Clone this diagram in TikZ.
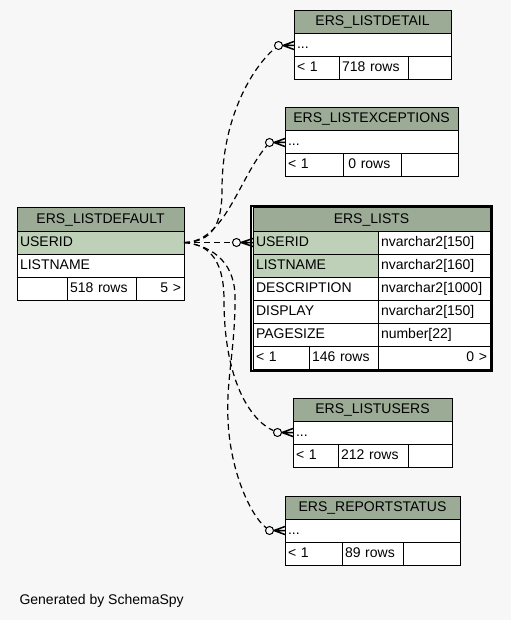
\documentclass[tikz,border=0pt]{standalone}
\usepackage{fontspec}
\setmainfont{Liberation Sans}
\usepackage{xcolor}
\usetikzlibrary{positioning, fit}

\definecolor{hdrgray}{HTML}{9BAB96}
\definecolor{keygreen}{HTML}{BED1B8}
\definecolor{pagebg}{HTML}{F7F7F7}

\begin{document}
\begin{tikzpicture}[
      x=1pt, y=-1pt,
      cell/.style={
        draw=black,
        line width=1pt,
        fill=white,
        anchor=north west,
        align=left,
        inner xsep=3pt,
        inner ysep=0pt,
        outer sep=0pt,
        minimum height=23pt,
        text height=10pt,
        text depth=3pt,
        font=\fontsize{14}{16}\selectfont
      },
      hdr/.style={cell, fill=hdrgray, align=center},
      key/.style={cell, fill=keygreen},
      num/.style={cell, align=right},
      ocirc/.style={circle, draw, line width=1pt, fill=pagebg, minimum size=8pt, inner sep=0pt},
      crow/.style={line width=1.5pt},
      fk/.style={line width=1.2pt, dash pattern=on 6pt off 4pt}
    ]
    % Page
    \fill[pagebg] (0,0) rectangle (511,620);
    \useasboundingbox (0,0) rectangle (511,620);

    % ERS_LISTDEFAULT (parent)
    \node [hdr, text width=161pt] (defhdr) at (17,208) {ERS\_LISTDEFAULT};
    \node [key, text width=161pt] (defuser) at (defhdr.south west) {USERID};
    \node [cell, text width=161pt] (defname) at (defuser.south west) {LISTNAME};
    \node [cell, text width=44pt] (deff1) at (defname.south west) {};
    \node [cell, text width=63pt] (deff2) at (deff1.north east) {518 rows};
    \node [num, text width=42pt] (deff3) at (deff2.north east) {5 >};

    % ERS_LISTDETAIL
    \node [hdr, text width=151pt] (dethdr) at (294,11) {ERS\_LISTDETAIL};
    \node [cell, text width=151pt] (detrow) at (dethdr.south west) {...};
    \node [cell, text width=39pt] (detf1) at (detrow.south west) {< 1};
    \node [cell, text width=63pt] (detf2) at (detf1.north east) {718 rows};
    \node [cell, text width=37pt] (detf3) at (detf2.north east) {};

    % ERS_LISTEXCEPTIONS
    \node [hdr, text width=167pt] (exchdr) at (285,108) {ERS\_LISTEXCEPTIONS};
    \node [cell, text width=167pt] (excrow) at (exchdr.south west) {...};
    \node [cell, text width=52pt] (excf1) at (excrow.south west) {< 1};
    \node [cell, text width=52pt] (excf2) at (excf1.north east) {\,0 rows};
    \node [cell, text width=51pt] (excf3) at (excf2.north east) {};

    % ERS_LISTS (selected table)
    \node [hdr, text width=231pt] (lstshdr) at (253,208) {ERS\_LISTS};
    \node [key, text width=119pt] (lstsuser) at (lstshdr.south west) {USERID};
    \node [cell, text width=106pt] (lstsusert) at (lstsuser.north east) {nvarchar2[150]};
    \node [key, text width=119pt] (lstsname) at (lstsuser.south west) {LISTNAME};
    \node [cell, text width=106pt] (lstsnamet) at (lstsname.north east) {nvarchar2[160]};
    \node [cell, text width=119pt] (lstsdesc) at (lstsname.south west) {DESCRIPTION};
    \node [cell, text width=106pt] (lstsdesct) at (lstsdesc.north east) {nvarchar2[1000]};
    \node [cell, text width=119pt] (lstsdisp) at (lstsdesc.south west) {DISPLAY};
    \node [cell, text width=106pt] (lstsdispt) at (lstsdisp.north east) {nvarchar2[150]};
    \node [cell, text width=119pt] (lstspage) at (lstsdisp.south west) {PAGESIZE};
    \node [cell, text width=106pt] (lstspaget) at (lstspage.north east) {number[22]};
    \node [cell, text width=50pt] (lstsf1) at (lstspage.south west) {< 1};
    \node [cell, text width=63pt] (lstsf2) at (lstsf1.north east) {146 rows};
    \node [num, text width=106pt] (lstsf3) at (lstsf2.north east) {0 >};
    \node [draw, line width=2pt, inner sep=2pt, fit=(lstshdr)(lstsf3)] (lstsframe) {};

    % ERS_LISTUSERS
    \node [hdr, text width=153pt] (lushdr) at (293,398) {ERS\_LISTUSERS};
    \node [cell, text width=153pt] (lusrow) at (lushdr.south west) {...};
    \node [cell, text width=39pt] (lusf1) at (lusrow.south west) {< 1};
    \node [cell, text width=64pt] (lusf2) at (lusf1.north east) {212 rows};
    \node [cell, text width=38pt] (lusf3) at (lusf2.north east) {};

    % ERS_REPORTSTATUS
    \node [hdr, text width=169pt] (rephdr) at (285,496) {ERS\_REPORTSTATUS};
    \node [cell, text width=169pt] (reprow) at (rephdr.south west) {...};
    \node [cell, text width=51pt] (repf1) at (reprow.south west) {< 1};
    \node [cell, text width=55pt] (repf2) at (repf1.north east) {89 rows};
    \node [cell, text width=51pt] (repf3) at (repf2.north east) {};

    % Zero-or-many ends
    \node [ocirc, left=11pt of detrow.west] (detc) {};
    \node [ocirc, left=11pt of excrow.west] (excc) {};
    \node [ocirc, left=12pt of lstsuser.west] (lstsc) {};
    \node [ocirc, left=11pt of lusrow.west] (lusc) {};
    \node [ocirc, left=11pt of reprow.west] (repc) {};

    \draw [crow] (detc.east) -- ([yshift=4pt]detrow.west) (detc.east) -- (detrow.west) (detc.east) -- ([yshift=-4pt]detrow.west);
    \draw [crow] (excc.east) -- ([yshift=4pt]excrow.west) (excc.east) -- (excrow.west) (excc.east) -- ([yshift=-4pt]excrow.west);
    \draw [crow] (lstsc.east) -- ([yshift=4pt]lstsuser.west) (lstsc.east) -- (lstsuser.west) (lstsc.east) -- ([yshift=-4pt]lstsuser.west);
    \draw [crow] (lusc.east) -- ([yshift=4pt]lusrow.west) (lusc.east) -- (lusrow.west) (lusc.east) -- ([yshift=-4pt]lusrow.west);
    \draw [crow] (repc.east) -- ([yshift=4pt]reprow.west) (repc.east) -- (reprow.west) (repc.east) -- ([yshift=-4pt]reprow.west);

    % Foreign keys to ERS_LISTDEFAULT.USERID
    \draw [fk] (defuser.east) .. controls (212,242) and (222,225) .. (222,190)
      .. controls (222,110) and (258,62) .. (detc);
    \draw [fk] (defuser.east) .. controls (225,242) and (238,180) .. (excc);
    \draw [fk] (defuser.east) -- (lstsc);
    \draw [fk] (defuser.east) .. controls (205,244) and (224,255) .. (224,300)
      .. controls (224,380) and (250,420) .. (lusc);
    \draw [fk] (defuser.east) .. controls (215,246) and (236,265) .. (235,300)
      .. controls (235,350) and (226,380) .. (228,420)
      .. controls (230,470) and (250,515) .. (repc);

    % Footer
    \node [anchor=base west, font=\fontsize{14}{16}\selectfont] (credit) at (16,604) {Generated by SchemaSpy};
  \end{tikzpicture}
\end{document}
